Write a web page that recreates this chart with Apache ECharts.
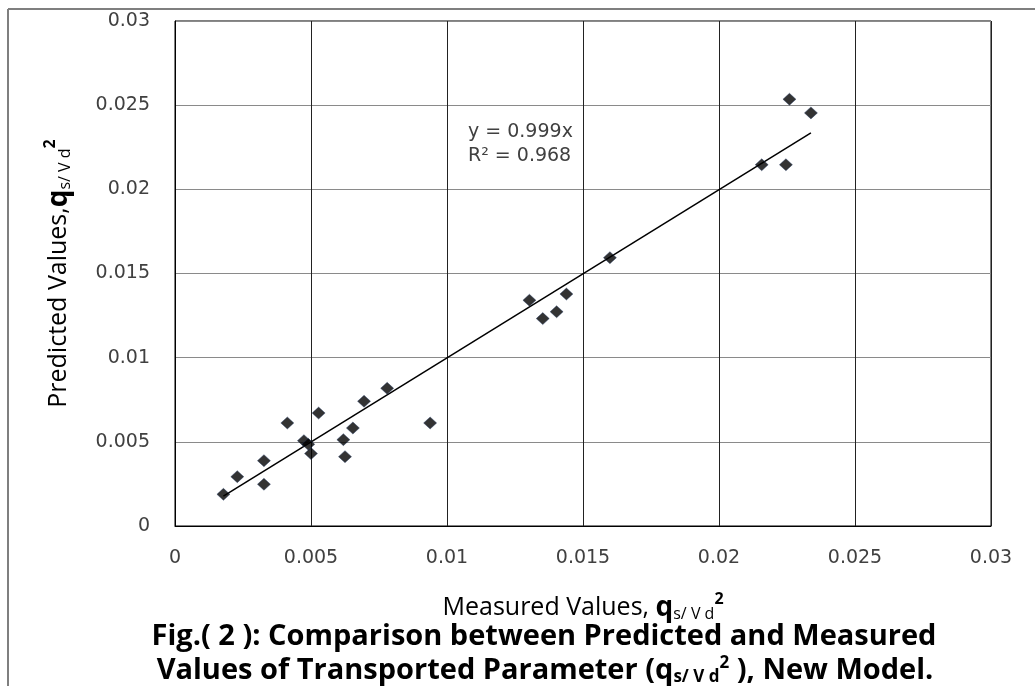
<!DOCTYPE html>
<html>
<head>
<meta charset="utf-8">
<script src="https://cdn.jsdelivr.net/npm/echarts@6/dist/echarts.min.js"></script>
<style>html,body{margin:0;padding:0;background:#fff}#c{width:1035px;height:686px}</style>
</head>
<body>
<div id="c"></div>
<script>
// Measured (x) and predicted (y) values
const measured = [0.00178, 0.00229, 0.00327, 0.00327, 0.00413, 0.00474, 0.0049, 0.0050, 0.00528, 0.00619, 0.00625, 0.00654, 0.00695, 0.0078, 0.00938, 0.01303, 0.01352, 0.01403, 0.01439, 0.01599, 0.02157, 0.02246, 0.02259, 0.02338];
const predicted = [0.00188, 0.00293, 0.00248, 0.00388, 0.00612, 0.00507, 0.00485, 0.00430, 0.00671, 0.00513, 0.00412, 0.00582, 0.00741, 0.00818, 0.00612, 0.01341, 0.01232, 0.01273, 0.01378, 0.01594, 0.02146, 0.02146, 0.02535, 0.02454];
const slope = 0.999;
const r2 = 0.968;
const xTicks = [0, 0.005, 0.01, 0.015, 0.02, 0.025, 0.03];
const yTicks = [0, 0.005, 0.01, 0.015, 0.02, 0.025, 0.03];

const points = measured.map((x, i) => [x, predicted[i]]);
const xMin = Math.min(...measured), xMax = Math.max(...measured);
const trend = [[xMin, slope * xMin], [xMax, slope * xMax]];

const chart = echarts.init(document.getElementById('c'));
const tickFont = {color: '#404040', fontFamily: 'DejaVu Sans', fontSize: 19};
const nameRich = {
  n: {fontFamily: 'Open Sans', fontSize: 25, color: '#000'},
  q: {fontFamily: 'Open Sans', fontWeight: 'bold', fontSize: 28, color: '#000'},
  s: {fontFamily: 'Open Sans', fontSize: 16, color: '#000', padding: [13, 0, 0, 0]},
  p: {fontFamily: 'Open Sans', fontWeight: 'bold', fontSize: 16, color: '#000', padding: [0, 0, 18, 0]}
};
chart.setOption({
  animation: false,
  grid: {left: 175, top: 21, right: 44, bottom: 160, show: true, borderColor: '#000', borderWidth: 1},
  xAxis: {
    type: 'value', min: 0, max: 0.03, interval: 0.005,
    axisLine: {show: true, lineStyle: {color: '#000'}},
    axisTick: {show: false},
    splitLine: {show: true, lineStyle: {color: '#222', width: 1}},
    axisLabel: Object.assign({margin: 23, formatter: v => xTicks.includes(+v.toFixed(3)) ? String(+v.toFixed(3)) : ''}, tickFont),
    name: '{n|Measured Values, }{q|q}{s|s/ V d}{p|2}',
    nameLocation: 'middle', nameGap: 65,
    nameTextStyle: {rich: nameRich}
  },
  yAxis: {
    type: 'value', min: 0, max: 0.03, interval: 0.005,
    axisLine: {show: true, lineStyle: {color: '#000'}},
    axisTick: {show: false},
    splitLine: {show: true, lineStyle: {color: '#8a8a8a', width: 1}},
    axisLabel: Object.assign({margin: 25, formatter: v => yTicks.includes(+v.toFixed(3)) ? String(+v.toFixed(3)) : ''}, tickFont),
    name: '{n|Predicted Values,}{q|q}{s|s/ V d}{p|2}',
    nameLocation: 'middle', nameGap: 99, nameRotate: 90,
    nameTextStyle: {rich: nameRich}
  },
  series: [
    {
      type: 'scatter', data: points, symbol: 'diamond', symbolSize: [13, 12],
      itemStyle: {color: '#000', borderColor: '#1f3864', borderWidth: 0.5}, z: 3
    },
    {
      type: 'line', data: trend, symbol: 'none', lineStyle: {color: '#000', width: 1.5}, z: 2
    }
  ],
  graphic: [
    {type: 'line', shape: {x1: 8, y1: 9, x2: 8, y2: 686}, style: {stroke: '#7f7f7f', lineWidth: 2}},
    {type: 'line', shape: {x1: 8, y1: 9, x2: 1035, y2: 9}, style: {stroke: '#7f7f7f', lineWidth: 2}},
    {type: 'text', x: 468, y: 132, style: {text: 'y = ' + slope + 'x', font: '19px "DejaVu Sans"', fill: '#404040', verticalAlign: 'middle'}},
    {type: 'text', x: 468, y: 156, style: {text: 'R² = ' + r2, font: '19px "DejaVu Sans"', fill: '#404040', verticalAlign: 'middle'}},
    {type: 'text', x: 544, y: 637, style: {text: 'Fig.( 2 ): Comparison between Predicted and Measured', font: 'bold 29px "Open Sans"', fill: '#000', align: 'center', verticalAlign: 'middle'}},
    {type: 'text', x: 545, y: 671, style: {
      text: '{t|Values of Transported Parameter (}{q|q}{s|s/ V d}{p|2}{t| ), New Model.}',
      align: 'center', verticalAlign: 'middle',
      rich: {
        t: {font: 'bold 29px "Open Sans"', fill: '#000'},
        q: {font: 'bold 29px "Open Sans"', fill: '#000'},
        s: {font: 'bold 17px "Open Sans"', fill: '#000', padding: [13, 0, 0, 0]},
        p: {font: 'bold 17px "Open Sans"', fill: '#000', padding: [0, 0, 16, 0]}
      }
    }}
  ]
});
</script>
</body>
</html>
